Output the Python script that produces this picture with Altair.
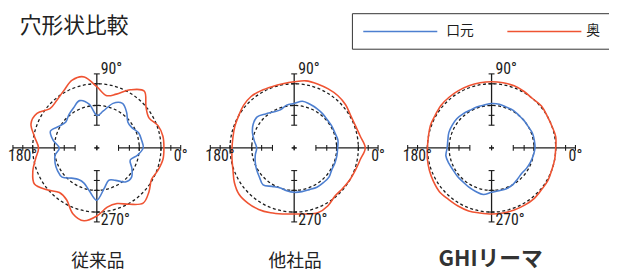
import altair as alt
import pandas as pd

# ---------------- data ----------------
panels = ["従来品", "他社品", "GHIリーマ"]
series_names = ["口元", "奥"]
angles = list(range(0, 360, 10))  # degrees

# radius at each angle (same arbitrary units as the reference circles)
p1_mouth = [47, 46, 45, 41, 41, 47, 52, 48, 38, 33, 45, 51, 47, 44, 41, 44, 50, 45,
            38, 43, 45, 46, 46, 40, 37, 38, 44, 53, 42, 35, 38, 45, 46, 41, 36, 42]
p1_back = [68, 68, 66, 61, 65, 75, 68, 58, 54, 62, 73, 73, 67, 63, 62, 70, 71, 64,
           59, 63, 69, 73, 66, 59, 61, 71, 75, 69, 61, 60, 66, 73, 69, 64, 66, 68]
p2_mouth = [44, 45, 44, 44, 44, 45, 46, 47, 48, 45, 44, 41, 42, 45, 49, 48, 45, 41,
            38, 40, 42, 44, 46, 49, 45, 43, 44, 45, 45, 45, 46, 46, 46, 44, 44, 44]
p2_back = [72, 68, 66, 66, 68, 69, 69, 69, 69, 67, 66, 66, 67, 68, 67, 65, 64, 63,
           63, 64, 66, 70, 73, 73, 72, 70, 68, 67, 68, 70, 68, 64, 64, 65, 66, 68]
p3_mouth = [44, 44, 44, 43, 43, 43, 44, 44, 45, 45, 44, 44, 44, 45, 46, 46, 46, 45,
            45, 47, 46, 45, 45, 45, 46, 47, 48, 45, 44, 44, 43, 41, 40, 41, 42, 43]
p3_back = [65, 66, 65, 65, 66, 65, 66, 67, 67, 67, 67, 67, 67, 67, 67, 66, 66, 65,
           65, 66, 67, 68, 69, 68, 68, 68, 67, 67, 67, 67, 67, 67, 66, 66, 65, 65]

ref_radii = [43, 65]                 # dashed reference circles
h_tick_r = [22, 33, 43, 65, 75, 85]  # tick radii on the horizontal axis
v_tick_r = [23, 33, 43, 65, 75]      # tick radii on the vertical axis

# ---------------- layout / style ----------------
W, H = 609, 265
CX0, DX, CY = 90, 200, 140
BLUE, RED, INK = "#4d7fd0", "#ef5332", "#1c1c1c"
CJK = "Noto Sans CJK JP"
LAT = "Liberation Sans Narrow, Roboto Condensed, Liberation Sans"

cx = f"({CX0} + {DX} * datum.pi)"
xs = alt.Scale(domain=[0, W], nice=False, zero=False)
ys = alt.Scale(domain=[0, H], nice=False, zero=False, reverse=True)
cscale = alt.Scale(domain=series_names, range=[BLUE, RED])


def X(f):
    return alt.X(f, type="quantitative", scale=xs, axis=None)


def Y(f):
    return alt.Y(f, type="quantitative", scale=ys, axis=None)


# curves table
rows = []
for pi, pair in enumerate([(p1_mouth, p1_back), (p2_mouth, p2_back), (p3_mouth, p3_back)]):
    for s, vals in zip(series_names, pair):
        for a, r in zip(angles, vals):
            rows.append(dict(panel=panels[pi], pi=pi, series=s, angle=a, r=r))
curves = pd.DataFrame(rows)

refs = pd.DataFrame([dict(pi=pi, r=r) for pi in range(3) for r in ref_radii])

segs = pd.DataFrame([dict(pi=pi, o=o, side=sd) for pi in range(3)
                     for o in ["h", "v"] for sd in [-1, 1]])

ticks = pd.DataFrame(
    [dict(pi=pi, o="h", side=sd, r=r) for pi in range(3) for sd in [-1, 1] for r in h_tick_r]
    + [dict(pi=pi, o="v", side=sd, r=r) for pi in range(3) for sd in [-1, 1] for r in v_tick_r]
)

pan = pd.DataFrame({"panel": panels, "pi": [0, 1, 2]})
leg = pd.DataFrame({"series": series_names, "i": [0, 1]})

# axis segments
seg_layer = alt.Chart(segs).transform_calculate(
    r0="datum.o == 'h' ? 22 : 23",
    r1="datum.o == 'h' ? 85 : 75",
).transform_calculate(
    x=f"datum.o == 'h' ? {cx} + datum.side * datum.r0 : {cx}",
    x2=f"datum.o == 'h' ? {cx} + datum.side * datum.r1 : {cx}",
    y=f"datum.o == 'h' ? {CY} : {CY} - datum.side * datum.r0",
    y2=f"datum.o == 'h' ? {CY} : {CY} - datum.side * datum.r1",
).mark_rule(color=INK, strokeWidth=1.3).encode(
    x=X("x"), x2="x2", y=Y("y"), y2="y2"
)

tick_layer = alt.Chart(ticks).transform_calculate(
    x=f"datum.o == 'h' ? {cx} + datum.side * datum.r : {cx} - 3",
    x2=f"datum.o == 'h' ? {cx} + datum.side * datum.r : {cx} + 3",
    y=f"datum.o == 'h' ? {CY} - 3 : {CY} - datum.side * datum.r",
    y2=f"datum.o == 'h' ? {CY} + 3 : {CY} - datum.side * datum.r",
).mark_rule(color=INK, strokeWidth=1.1).encode(
    x=X("x"), x2="x2", y=Y("y"), y2="y2"
)

cross_layer = alt.Chart(segs).transform_calculate(
    x=f"datum.o == 'h' ? {cx} - 2.5 : {cx}",
    x2=f"datum.o == 'h' ? {cx} + 2.5 : {cx}",
    y=f"datum.o == 'h' ? {CY} : {CY} - 2.5",
    y2=f"datum.o == 'h' ? {CY} : {CY} + 2.5",
).mark_rule(color=INK, strokeWidth=1.1).encode(
    x=X("x"), x2="x2", y=Y("y"), y2="y2"
)

ref_layer = alt.Chart(refs).transform_calculate(
    x=cx, y=str(CY), s="pow(2 * datum.r, 2)"
).mark_point(shape="circle", filled=False, color=INK, opacity=1,
             strokeWidth=1.3, strokeDash=[3, 2.5]).encode(
    x=X("x"), y=Y("y"), size=alt.Size("s:Q", scale=None, legend=None)
)

curve_layer = alt.Chart(curves).transform_calculate(
    x=f"{cx} + datum.r * cos(datum.angle * PI / 180)",
    y=f"{CY} - datum.r * sin(datum.angle * PI / 180)",
    key="datum.panel + '_' + datum.series",
).mark_line(interpolate="cardinal-closed", strokeWidth=1.6).encode(
    x=X("x"), y=Y("y"),
    color=alt.Color("series:N", scale=cscale, legend=None),
    detail="key:N",
    order="angle:Q",
)

# angle labels
lab_specs = [
    ("0°", f"{cx} + 85", f"{CY} + 8", "center"),
    ("90°", f"{cx} + 4", f"{CY} - 80", "left"),
    ("180°", f"{cx} - 90", f"{CY} + 8", "left"),
    ("270°", f"{cx} + 4", f"{CY} + 73", "left"),
]
lab_layers = []
for txt, ex, ey, al in lab_specs:
    lab_layers.append(
        alt.Chart(pan).transform_calculate(x=ex, y=ey, t=f"'{txt}'")
        .mark_text(font=LAT, fontSize=16, color=INK, align=al, baseline="middle")
        .encode(x=X("x"), y=Y("y"), text="t:N")
    )

name_layer = alt.Chart(pan).transform_filter("datum.pi < 2").transform_calculate(
    x=f"{cx} + 1"
).mark_text(font=CJK, fontSize=18, color="#222222", align="center", baseline="middle").encode(
    x=X("x"), y=alt.value(256), text="panel:N"
)
name_layer3 = alt.Chart(pan).transform_filter("datum.pi == 2").transform_calculate(
    x=f"{cx} - 1"
).mark_text(font=CJK, fontSize=22, fontWeight="bold", color="#333333",
            align="center", baseline="middle").encode(
    x=X("x"), y=alt.value(253), text="panel:N"
)

title_layer = alt.Chart(pd.DataFrame({"t": ["穴形状比較"]})).mark_text(
    font=CJK, fontSize=22, color="#222222", align="left", baseline="middle"
).encode(x=alt.value(12), y=alt.value(17), text="t:N")

# legend drawn as a boxed key
leg_box = alt.Chart(pd.DataFrame({"a": [0]})).mark_rect(
    fill="white", stroke="#333333", strokeWidth=1
).encode(x=alt.value(349), x2=alt.value(W + 20), y=alt.value(4), y2=alt.value(40))

leg_line = alt.Chart(leg).transform_calculate(
    x="360 + 146 * datum.i", x2="435 + 146 * datum.i", y="22"
).mark_rule(strokeWidth=1.5).encode(
    x=X("x"), x2="x2", y=Y("y"),
    color=alt.Color("series:N", scale=cscale, legend=None),
)
leg_text = alt.Chart(leg).transform_calculate(
    x="444 + 142 * datum.i", y="22"
).mark_text(font=CJK, fontSize=14, color=INK, align="left", baseline="middle").encode(
    x=X("x"), y=Y("y"), text="series:N"
)

chart = alt.layer(
    seg_layer, tick_layer, cross_layer, ref_layer, curve_layer,
    *lab_layers, name_layer, name_layer3, title_layer,
    leg_box, leg_line, leg_text
).properties(
    width=W, height=H, padding=0,
    autosize=alt.AutoSizeParams(type="none"),
).configure_view(stroke=None)

chart.save("out.html", embed_options={"renderer": "svg", "actions": False})
